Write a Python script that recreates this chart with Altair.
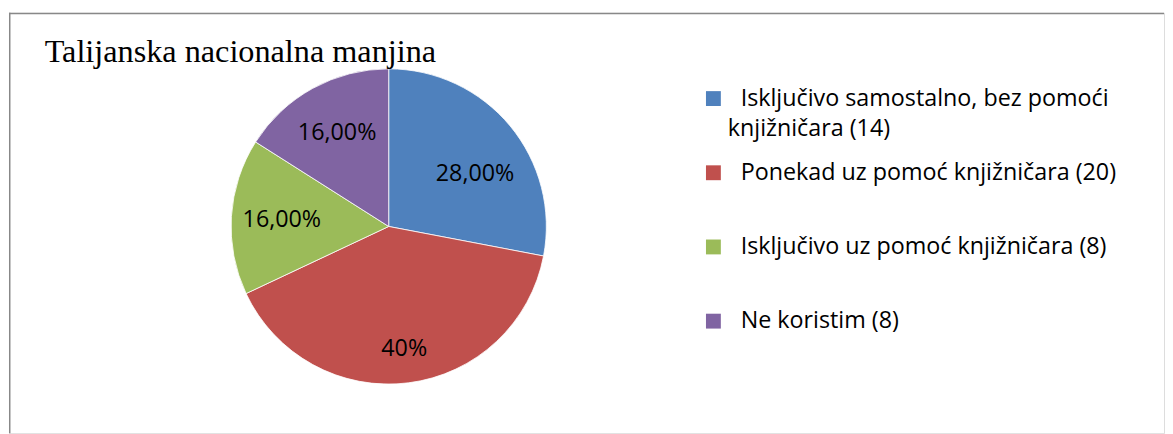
import altair as alt
import pandas as pd

# ---- data ----
categories = [
    "Isključivo samostalno, bez pomoći knjižničara",
    "Ponekad uz pomoć knjižničara",
    "Isključivo uz pomoć knjižničara",
    "Ne koristim",
]
counts = [14, 20, 8, 8]
pct_labels = ["28,00%", "40%", "16,00%", "16,00%"]
legend_line1 = [
    "\u00a0Isključivo samostalno, bez pomoći",
    "\u00a0Ponekad uz pomoć knjižničara (20)",
    "\u00a0Isključivo uz pomoć knjižničara (8)",
    "Ne koristim (8)",
]
legend_line2 = ["knjižničara (14)", "", "", ""]
colors = ["#4F81BD", "#C0504D", "#9BBB59", "#8064A2"]
title_text = ["Talijanska nacionalna manjina"]

df = pd.DataFrame({
    "cat": categories,
    "count": counts,
    "order": list(range(len(categories))),
    "pct": pct_labels,
    "line1": legend_line1,
    "line2": legend_line2,
})

W, H = 1165, 424
FONT = "Open Sans"
FS = 23.5
CX, CY, R = 383, 215.5, 159

color = alt.Color("cat:N", scale=alt.Scale(domain=categories, range=colors), legend=None)

pie_base = alt.Chart(df).encode(
    theta=alt.Theta("count:Q", stack=True),
    order=alt.Order("order:Q"),
    x=alt.value(CX),
    y=alt.value(CY),
)

arcs = pie_base.mark_arc(outerRadius=R, stroke="white", strokeWidth=0.8).encode(color=color)

lab_main = pie_base.transform_calculate(
    lab="datum.order >= 2 ? datum.pct : ''"
).mark_text(radius=108, font=FONT, fontSize=FS, color="black").encode(text="lab:N")

lab_red = pie_base.transform_calculate(
    lab="datum.order == 1 ? datum.pct : ''"
).mark_text(radius=125, font=FONT, fontSize=FS, color="black").encode(text="lab:N")

lab_blue = pie_base.transform_calculate(
    lab="datum.order == 0 ? datum.pct : ''"
).mark_text(radius=102, thetaOffset=0.143, font=FONT, fontSize=FS, color="black").encode(text="lab:N")

yleg = alt.Y("cat:N", scale=alt.Scale(type="point", domain=categories, range=[86.5, 311], padding=0), axis=None)

leg_sq = alt.Chart(df).mark_square(size=225, opacity=1).encode(
    y=yleg, x=alt.value(710.5), color=color
)
leg_t1 = alt.Chart(df).mark_text(align="left", baseline="middle", font=FONT, fontSize=FS, color="black").encode(
    y=yleg, x=alt.value(738), text="line1:N"
)
leg_t2 = alt.Chart(df).mark_text(align="left", baseline="middle", font=FONT, fontSize=FS, color="black", dy=31).encode(
    y=yleg, x=alt.value(725), text="line2:N"
)

title_mark = alt.Chart(pd.DataFrame({"t": title_text})).mark_text(
    align="left", baseline="alphabetic", font="Liberation Serif", fontSize=32.5, color="black"
).encode(x=alt.value(36), y=alt.value(50), text="t:N")

frame_data = alt.Data(values=[{"a": 1}])
frame_left = alt.Chart(frame_data).mark_rule(color="#888888", strokeWidth=1.5).encode(
    x=alt.value(0.75), y=alt.value(0), y2=alt.value(H)
)
frame_top = alt.Chart(frame_data).mark_rule(color="#888888", strokeWidth=1.5).encode(
    x=alt.value(0), x2=alt.value(W), y=alt.value(0.75)
)

chart = alt.layer(
    frame_left, frame_top, arcs, lab_main, lab_red, lab_blue, leg_sq, leg_t1, leg_t2, title_mark
).properties(
    width=W,
    height=H,
    padding={"left": 0, "top": 2, "right": 0, "bottom": 0},
).configure_view(stroke=None).configure(background="white")

chart.save("out.html", embed_options={"renderer": "svg", "actions": False})
